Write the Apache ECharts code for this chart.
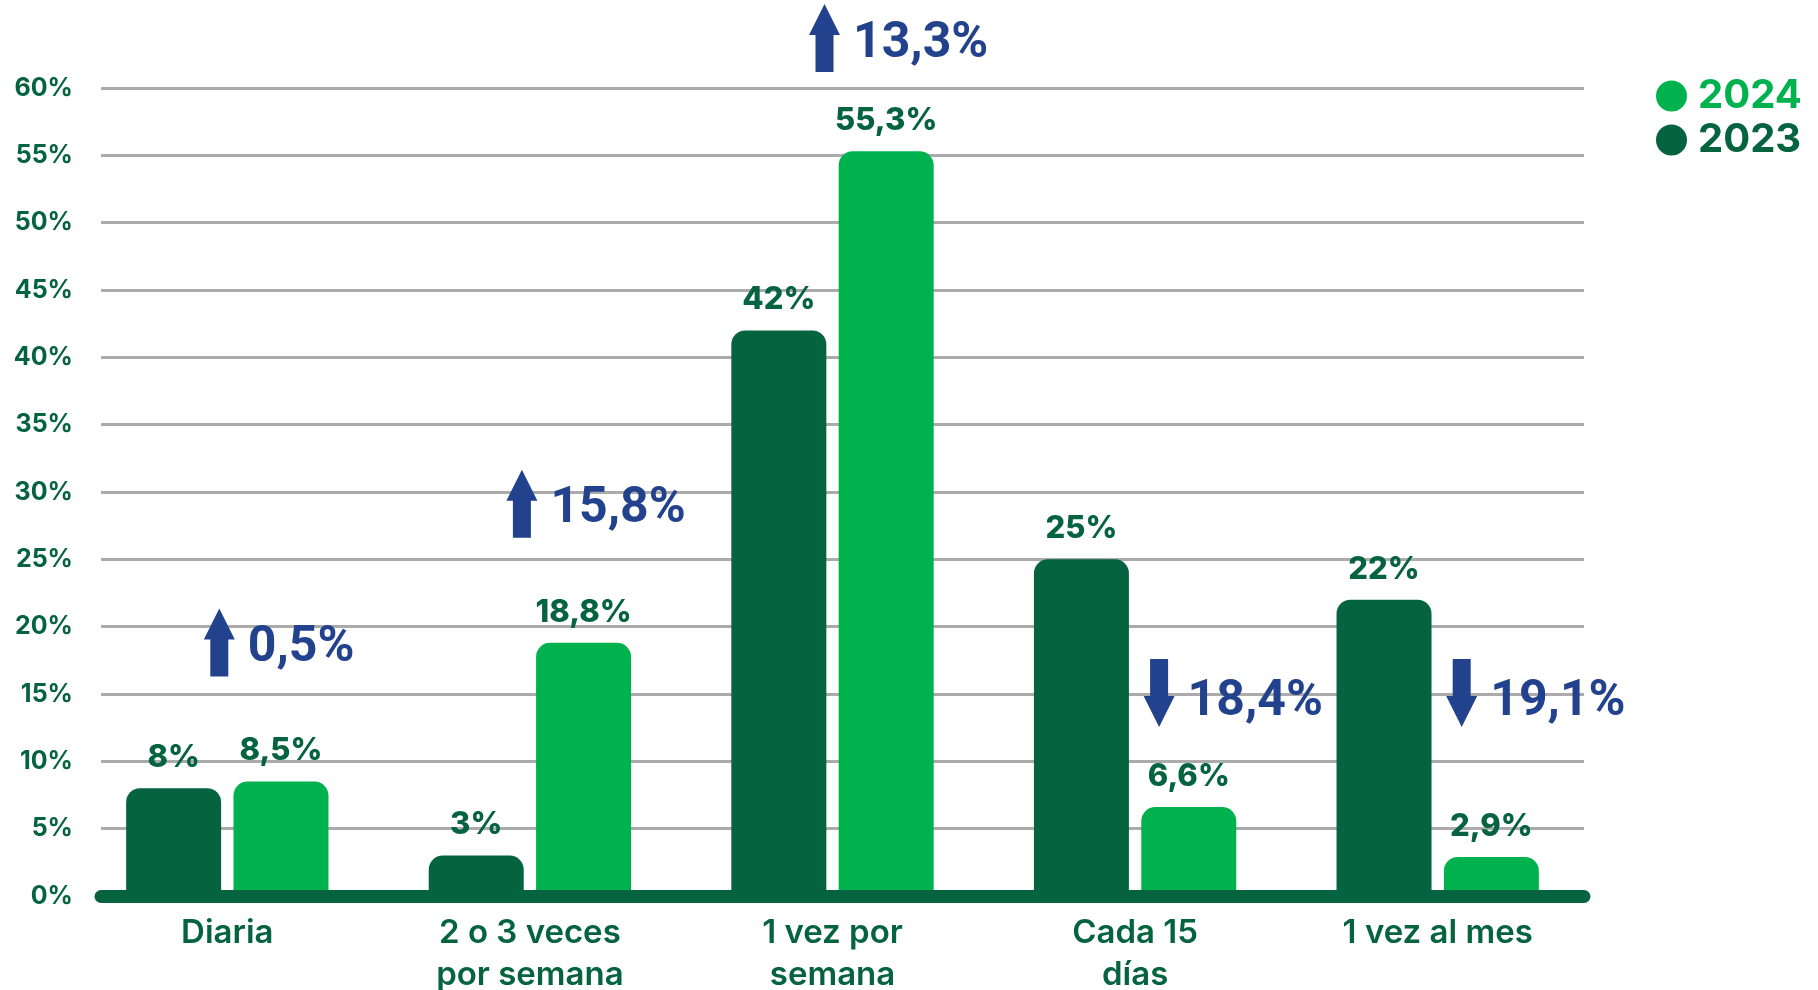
<!DOCTYPE html>
<html>
<head>
<meta charset="utf-8">
<script src="https://cdn.jsdelivr.net/npm/echarts@6/dist/echarts.min.js"></script>
<style>
html,body{margin:0;padding:0;background:#fff;}
#chart{width:1818px;height:990px;}
</style>
</head>
<body>
<div id="chart"></div>
<script>
const categories = ['Diaria', '2 o 3 veces\npor semana', '1 vez por\nsemana', 'Cada 15\ndías', '1 vez al mes'];
const values2023 = [8, 3, 42, 25, 22];
const values2024 = [8.5, 18.8, 55.3, 6.6, 2.9];
const changes = [0.5, 15.8, 13.3, -18.4, -19.1];
const seriesNames = ['2023', '2024'];

const DARK = '#05643f';
const LIGHT = '#00b24d';
const BLUE = '#23428d';
const FONT = 'Inter';

const fmt = v => String(v).replace('.', ',') + '%';

const chart = echarts.init(document.getElementById('chart'));

const barLabel = {
  show: true, position: 'top', distance: 15,
  color: DARK, fontFamily: FONT, fontWeight: 800, fontSize: 31,
  formatter: p => fmt(p.value)
};

function renderArrow(params, api) {
  const i = api.value(0);
  const d = api.value(1);
  const cx = api.coord([i, 0])[0];
  const yTop60 = api.coord([i, 60])[1];
  const up = d > 0;
  const H = 68, headH = 31, headW = 31, shaftW = 18;
  let ax, aTop, aBot, pts, ty;
  if (up) {
    const top = api.coord([i, Math.max(values2023[i], values2024[i])])[1];
    aBot = Math.max(top - 105, yTop60 - 16);
    aTop = aBot - H;
    ax = cx - 8;
    pts = [[ax - shaftW/2, aBot], [ax + shaftW/2, aBot], [ax + shaftW/2, aTop + headH],
           [ax + headW/2, aTop + headH], [ax, aTop], [ax - headW/2, aTop + headH], [ax - shaftW/2, aTop + headH]];
    ty = aBot - 28;
  } else {
    aTop = api.coord([i, 17.6])[1];
    aBot = aTop + H;
    ax = cx + 24;
    pts = [[ax - shaftW/2, aTop], [ax + shaftW/2, aTop], [ax + shaftW/2, aBot - headH],
           [ax + headW/2, aBot - headH], [ax, aBot], [ax - headW/2, aBot - headH], [ax - shaftW/2, aBot - headH]];
    ty = aTop + 44;
  }
  return {
    type: 'group',
    children: [
      { type: 'polygon', shape: { points: pts }, style: { fill: BLUE } },
      { type: 'text', x: ax + headW/2 + 13, y: ty,
        style: { text: fmt(Math.abs(d)), fill: BLUE, font: '700 50px Roboto',
                 textAlign: 'left', textVerticalAlign: 'middle' } }
    ]
  };
}

chart.setOption({
  backgroundColor: '#fff',
  animation: false,
  grid: [
    { left: 76, right: 229, top: 88, bottom: 94, containLabel: false, outerBoundsMode: 'none' },
    { left: 101, right: 234, top: 88, bottom: 94, containLabel: false, outerBoundsMode: 'none' }
  ],
  legend: {
    data: [
      { name: '2024', textStyle: { color: LIGHT } },
      { name: '2023', textStyle: { color: DARK } }
    ],
    orient: 'vertical',
    left: 1651, top: 70,
    icon: 'circle', itemWidth: 31, itemHeight: 31, itemGap: 2,
    textStyle: { fontFamily: FONT, fontWeight: 700, fontSize: 40, lineHeight: 42, padding: [0, 0, 0, 6] }
  },
  xAxis: [
    {
      type: 'category', gridIndex: 0, data: categories,
      axisLine: { show: false }, axisTick: { show: false },
      axisLabel: { interval: 0, margin: 16, color: DARK, fontFamily: FONT, fontWeight: 600, fontSize: 33, lineHeight: 42 }
    },
    {
      type: 'value', gridIndex: 1, min: 0, max: 1, z: 5,
      axisLine: { show: true, lineStyle: { color: DARK, width: 13, cap: 'round' } },
      axisTick: { show: false }, axisLabel: { show: false }, splitLine: { show: false }
    }
  ],
  yAxis: [
    { type: 'value', gridIndex: 0, min: 0, max: 60, interval: 5, show: false, splitLine: { show: false } },
    {
      type: 'value', gridIndex: 1, min: 0, max: 60, interval: 5,
      axisLine: { show: false }, axisTick: { show: false },
      axisLabel: { margin: 28, color: DARK, fontFamily: FONT, fontWeight: 700, fontSize: 25, formatter: '{value}%' },
      splitLine: { lineStyle: { color: '#ababab', width: 3 } }
    }
  ],
  series: [
    {
      name: seriesNames[0], type: 'bar', xAxisIndex: 0, yAxisIndex: 0,
      data: values2023, barWidth: 95, barGap: '13%',
      itemStyle: { color: DARK, borderRadius: [14, 14, 0, 0] },
      label: barLabel
    },
    {
      name: seriesNames[1], type: 'bar', xAxisIndex: 0, yAxisIndex: 0,
      data: values2024, barWidth: 95,
      itemStyle: { color: LIGHT, borderRadius: [14, 14, 0, 0] },
      label: barLabel
    },
    {
      type: 'custom', xAxisIndex: 0, yAxisIndex: 0, clip: false, z: 6,
      renderItem: renderArrow,
      data: changes.map((d, i) => [i, d])
    }
  ]
});
</script>
</body>
</html>
